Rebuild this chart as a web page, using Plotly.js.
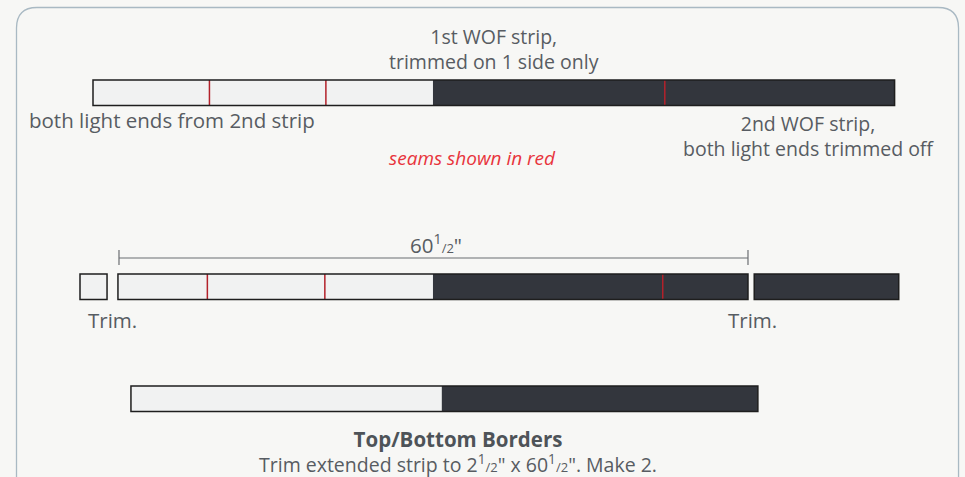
<!DOCTYPE html>
<html><head><meta charset="utf-8">
<script src="https://cdn.plot.ly/plotly-3.0.1.min.js"></script>
<style>html,body{margin:0;padding:0;background:#f7f7f5;}</style>
</head><body>
<div id="chart" style="width:965px;height:477px;"></div>
<script>
// ---- Data (inches along the strip) ----
// Row 1: joined WOF strips
const row1Start = 0;
const row1Lengths = [11.2, 11.2, 10.3, 22.3, 22.1];
const row1Shades = ['light', 'light', 'light', 'dark', 'dark'];
const row1Seams = [1, 2, 4];          // seam before segment index
// Row 2: trimmed to length
const row2TrimLeftStart = -1.25;
const row2TrimLeftLength = 2.6;
const row2Start = 2.4;
const row2Lengths = [8.6, 11.3, 10.4, 22.1, 8.2];
const row2Shades = ['light', 'light', 'light', 'dark', 'dark'];
const row2Seams = [1, 2, 4];
const row2TrimRightStart = 63.6;
const row2TrimRightLength = 13.9;
const measureStart = 2.5;
const measureLength = 60.5;
const half = '<sup>1</sup><span style="font-size:13px">/2</span>';
const measureLabel = '60' + half + '"';
// Row 3: finished border
const row3Start = 3.65;
const row3Lengths = [29.9, 30.4];
const row3Shades = ['light', 'dark'];
const row3Seams = [];

// ---- Layout helpers ----
const W = 965, H = 477;
const pxPerInch = 629 / 60.5;
const originPx = 93;
const xRange = [-originPx / pxPerInch, (W - originPx) / pxPerInch];
const fill = { light: '#f1f2f2', dark: '#33363d' };
const textColor = '#575c62';
const font = '"Open Sans", Lato, sans-serif';
const shapes = [];
const annotations = [];

function strip(start, lengths, shades, seams, yTop, yBot) {
  let x = start;
  const bounds = [];
  lengths.forEach((len, i) => {
    shapes.push({ type: 'rect', xref: 'x', yref: 'y', x0: x, x1: x + len, y0: yTop, y1: yBot,
      fillcolor: fill[shades[i]], line: { width: 0 }, layer: 'above' });
    bounds.push(x);
    x += len;
  });
  seams.forEach(i => {
    shapes.push({ type: 'line', xref: 'x', yref: 'y', x0: bounds[i], x1: bounds[i], y0: yTop, y1: yBot,
      line: { color: '#b3212a', width: 1.5 }, layer: 'above' });
  });
  shapes.push({ type: 'rect', xref: 'x', yref: 'y', x0: start, x1: x, y0: yTop, y1: yBot,
    fillcolor: 'rgba(0,0,0,0)', line: { color: '#1e1e1e', width: 1.5 }, layer: 'above' });
}

strip(row1Start, row1Lengths, row1Shades, row1Seams, 80, 105.5);
strip(row2TrimLeftStart, [row2TrimLeftLength], ['light'], [], 274, 299.5);
strip(row2Start, row2Lengths, row2Shades, row2Seams, 274, 299.5);
strip(row2TrimRightStart, [row2TrimRightLength], ['dark'], [], 274, 299.5);
strip(row3Start, row3Lengths, row3Shades, row3Seams, 386, 411.5);

// measurement line
const mEnd = measureStart + measureLength;
shapes.push({ type: 'line', xref: 'x', yref: 'y', x0: measureStart, x1: mEnd, y0: 258, y1: 258, line: { color: '#6b6e72', width: 1.2 } });
shapes.push({ type: 'line', xref: 'x', yref: 'y', x0: measureStart, x1: measureStart, y0: 250, y1: 265, line: { color: '#6b6e72', width: 1.2 } });
shapes.push({ type: 'line', xref: 'x', yref: 'y', x0: mEnd, x1: mEnd, y0: 250, y1: 265, line: { color: '#6b6e72', width: 1.2 } });

// rounded frame
const fx = v => (v / W).toFixed(4), fy = v => (1 - v / H).toFixed(4);
shapes.push({ type: 'path', xref: 'paper', yref: 'paper', layer: 'below',
  path: `M ${fx(16.5)} ${fy(490)} L ${fx(16.5)} ${fy(28)} Q ${fx(16.5)} ${fy(7.5)} ${fx(37)} ${fy(7.5)} L ${fx(938)} ${fy(7.5)} Q ${fx(958.5)} ${fy(7.5)} ${fx(958.5)} ${fy(28)} L ${fx(958.5)} ${fy(490)}`,
  line: { color: '#a9b9c3', width: 1.3 } });

function label(text, xpx, ypx, opts = {}) {
  annotations.push(Object.assign({ text: text, xref: 'paper', yref: 'paper', x: xpx / W, y: 1 - ypx / H,
    xanchor: 'center', yanchor: 'middle', showarrow: false, align: 'center',
    font: { family: font, size: 20.5, color: textColor } }, opts));
}
label('1st WOF strip,<br>trimmed on 1 side only', 494, 49, { font: { family: font, size: 19.5, color: textColor } });
label('both light ends from 2nd strip', 172, 120);
label('2nd WOF strip,<br>both light ends trimmed off', 808, 136, { font: { family: font, size: 19.5, color: textColor } });
label('<i>seams shown in red</i>', 472, 158, { font: { family: font, size: 19, color: '#e8343c' } });
label(measureLabel, 436, 244);
label('Trim.', 112, 320);
label('Trim.', 752, 320);
label('<b><span style="font-size:20.5px;color:#4e5358">Top/Bottom Borders</span></b><br>Trim extended strip to 2' + half + '" x 60' + half + '". Make 2.',
  458, 451, { font: { family: font, size: 19.5, color: textColor } });

const layout = {
  width: W, height: H, autosize: false,
  margin: { l: 0, r: 0, t: 0, b: 0, pad: 0 },
  paper_bgcolor: '#f7f7f5', plot_bgcolor: '#f7f7f5',
  xaxis: { range: xRange, visible: false, fixedrange: true },
  yaxis: { range: [H, 0], visible: false, fixedrange: true },
  showlegend: false, shapes: shapes, annotations: annotations
};
Plotly.newPlot('chart', [{ x: [], y: [], type: 'scatter', mode: 'markers', hoverinfo: 'skip' }], layout, { staticPlot: true, displayModeBar: false });
</script>
</body></html>
